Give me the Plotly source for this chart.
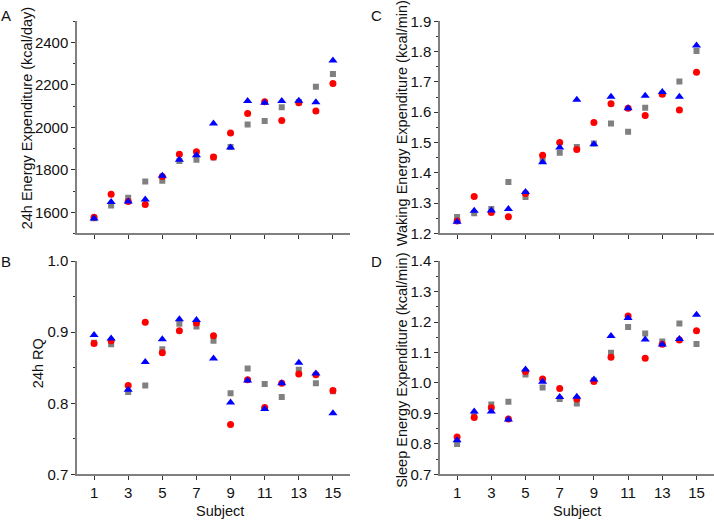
import plotly.graph_objects as go
from plotly.subplots import make_subplots

subjects = list(range(1, 16))
tick_vals = [1, 3, 5, 7, 9, 11, 13, 15]

# A: 24h energy expenditure (kcal/day)
ee24_gray = [1572, 1632, 1668, 1745, 1749, 1841, 1848, 1858, 1908, 2014, 2030, 2095, 2120, 2192, 2251]
ee24_red = [1577, 1685, 1651, 1636, 1768, 1873, 1885, 1860, 1973, 2066, 2121, 2032, 2116, 2077, 2207]
ee24_blue = [1570, 1648, 1651, 1660, 1772, 1848, 1869, 2018, 1905, 2124, 2116, 2124, 2125, 2118, 2315]

# B: 24h RQ
rq_gray = [0.885, 0.883, 0.816, 0.825, 0.876, 0.912, 0.908, 0.888, 0.814, 0.849, 0.827, 0.809, 0.847, 0.828, 0.817]
rq_red = [0.884, 0.888, 0.825, 0.914, 0.871, 0.902, 0.913, 0.895, 0.770, 0.833, 0.794, 0.828, 0.841, 0.840, 0.818]
rq_blue = [0.896, 0.891, 0.819, 0.858, 0.890, 0.918, 0.917, 0.863, 0.801, 0.832, 0.792, 0.828, 0.857, 0.842, 0.786]

# C: waking energy expenditure (kcal/min)
wake_gray = [1.254, 1.267, 1.281, 1.370, 1.320, 1.441, 1.466, 1.485, 1.497, 1.563, 1.536, 1.615, 1.661, 1.701, 1.802]
wake_red = [1.241, 1.322, 1.269, 1.255, 1.332, 1.458, 1.500, 1.477, 1.566, 1.628, 1.613, 1.589, 1.659, 1.607, 1.732]
wake_blue = [1.239, 1.275, 1.276, 1.281, 1.337, 1.435, 1.484, 1.641, 1.494, 1.651, 1.613, 1.654, 1.667, 1.651, 1.820]

# D: sleep energy expenditure (kcal/min)
sleep_gray = [0.800, 0.895, 0.929, 0.938, 1.028, 0.985, 0.947, 0.933, 1.008, 1.099, 1.184, 1.162, 1.136, 1.195, 1.128]
sleep_red = [0.823, 0.887, 0.919, 0.882, 1.038, 1.013, 0.982, 0.947, 1.005, 1.084, 1.220, 1.081, 1.127, 1.141, 1.171]
sleep_blue = [0.812, 0.906, 0.906, 0.880, 1.044, 1.004, 0.954, 0.955, 1.011, 1.154, 1.213, 1.143, 1.126, 1.144, 1.224]

panels = [
    (1, 1, ee24_gray, ee24_red, ee24_blue),
    (2, 1, rq_gray, rq_red, rq_blue),
    (1, 2, wake_gray, wake_red, wake_blue),
    (2, 2, sleep_gray, sleep_red, sleep_blue),
]

W, H = 714, 524
FONT = "Liberation Sans, Arial, sans-serif"

fig = make_subplots(rows=2, cols=2)

for row, col, g, r, b in panels:
    fig.add_trace(go.Scatter(x=subjects, y=g, mode="markers", name="gray",
                             marker=dict(symbol="square", size=6, color="#808080")), row=row, col=col)
    fig.add_trace(go.Scatter(x=subjects, y=r, mode="markers", name="red",
                             marker=dict(symbol="circle", size=7, color="#ff0000")), row=row, col=col)
    fig.add_trace(go.Scatter(x=subjects, y=b, mode="markers", name="blue",
                             marker=dict(symbol="triangle-up", size=8, color="#0000ff")), row=row, col=col)

axis_style = dict(showline=True, linecolor="#808080", linewidth=1.5, showgrid=False, zeroline=False,
                  ticks="outside", ticklen=4, tickwidth=1, tickcolor="#333333",
                  tickfont=dict(family=FONT, size=15, color="#111111"))
minor = dict(ticks="outside", ticklen=2, tickcolor="#333333")

xl = [77 / W, 350 / W]
xr = [440 / W, 713.6 / W]
yt = [1 - 232 / H, 1 - 12.7 / H]
yb = [1 - 481 / H, 1 - 260.5 / H]

fig.update_xaxes(**axis_style, range=[0, 16], tickvals=tick_vals)
fig.update_xaxes(showticklabels=False, row=1)
fig.update_yaxes(**axis_style)

fig.update_layout(
    xaxis=dict(domain=xl), yaxis=dict(domain=yt, range=[1500, 2500], dtick=200, tick0=1600,
                                      minor=dict(minor, dtick=100)),
    xaxis2=dict(domain=xr), yaxis2=dict(domain=yt, range=[1.2, 1.9], dtick=0.1, tickformat=".1f",
                                        minor=dict(minor, dtick=0.05)),
    xaxis3=dict(domain=xl), yaxis3=dict(domain=yb, range=[0.7, 1.0], dtick=0.1, tickformat=".1f",
                                        minor=dict(minor, dtick=0.05)),
    xaxis4=dict(domain=xr), yaxis4=dict(domain=yb, range=[0.7, 1.4], dtick=0.1, tickformat=".1f",
                                        minor=dict(minor, dtick=0.05)),
)

def ann(text, px, py, angle=0, size=15):
    fig.add_annotation(text=text, x=px / W, y=1 - py / H, xref="paper", yref="paper",
                       showarrow=False, textangle=angle, xanchor="center", yanchor="middle",
                       font=dict(family=FONT, size=size, color="#111111"))

ann("A", 6, 7)
ann("B", 6, 261)
ann("C", 376, 7)
ann("D", 376, 261)
ann("24h Energy Expenditure (kcal/day)", 27, 113, angle=-90, size=14.5)
ann("24h RQ", 38, 366, angle=-90, size=14.5)
ann("Waking Energy Expenditure (kcal/min)", 402, 118, angle=-90, size=14.5)
ann("Sleep Energy Expenditure (kcal/min)", 402, 374, angle=-90, size=14.5)
ann("Subject", 220, 519, size=14.5)
ann("Subject", 577, 519, size=14.5)

fig.update_layout(width=W, height=H, margin=dict(l=0, r=0, t=0, b=0),
                  paper_bgcolor="white", plot_bgcolor="white", showlegend=False,
                  font=dict(family=FONT))

# drop the default body margin so the 714x524 figure fills the window
fig.write_html("out.html", config={"displayModeBar": False},
               post_script="document.body.style.margin='0';")
